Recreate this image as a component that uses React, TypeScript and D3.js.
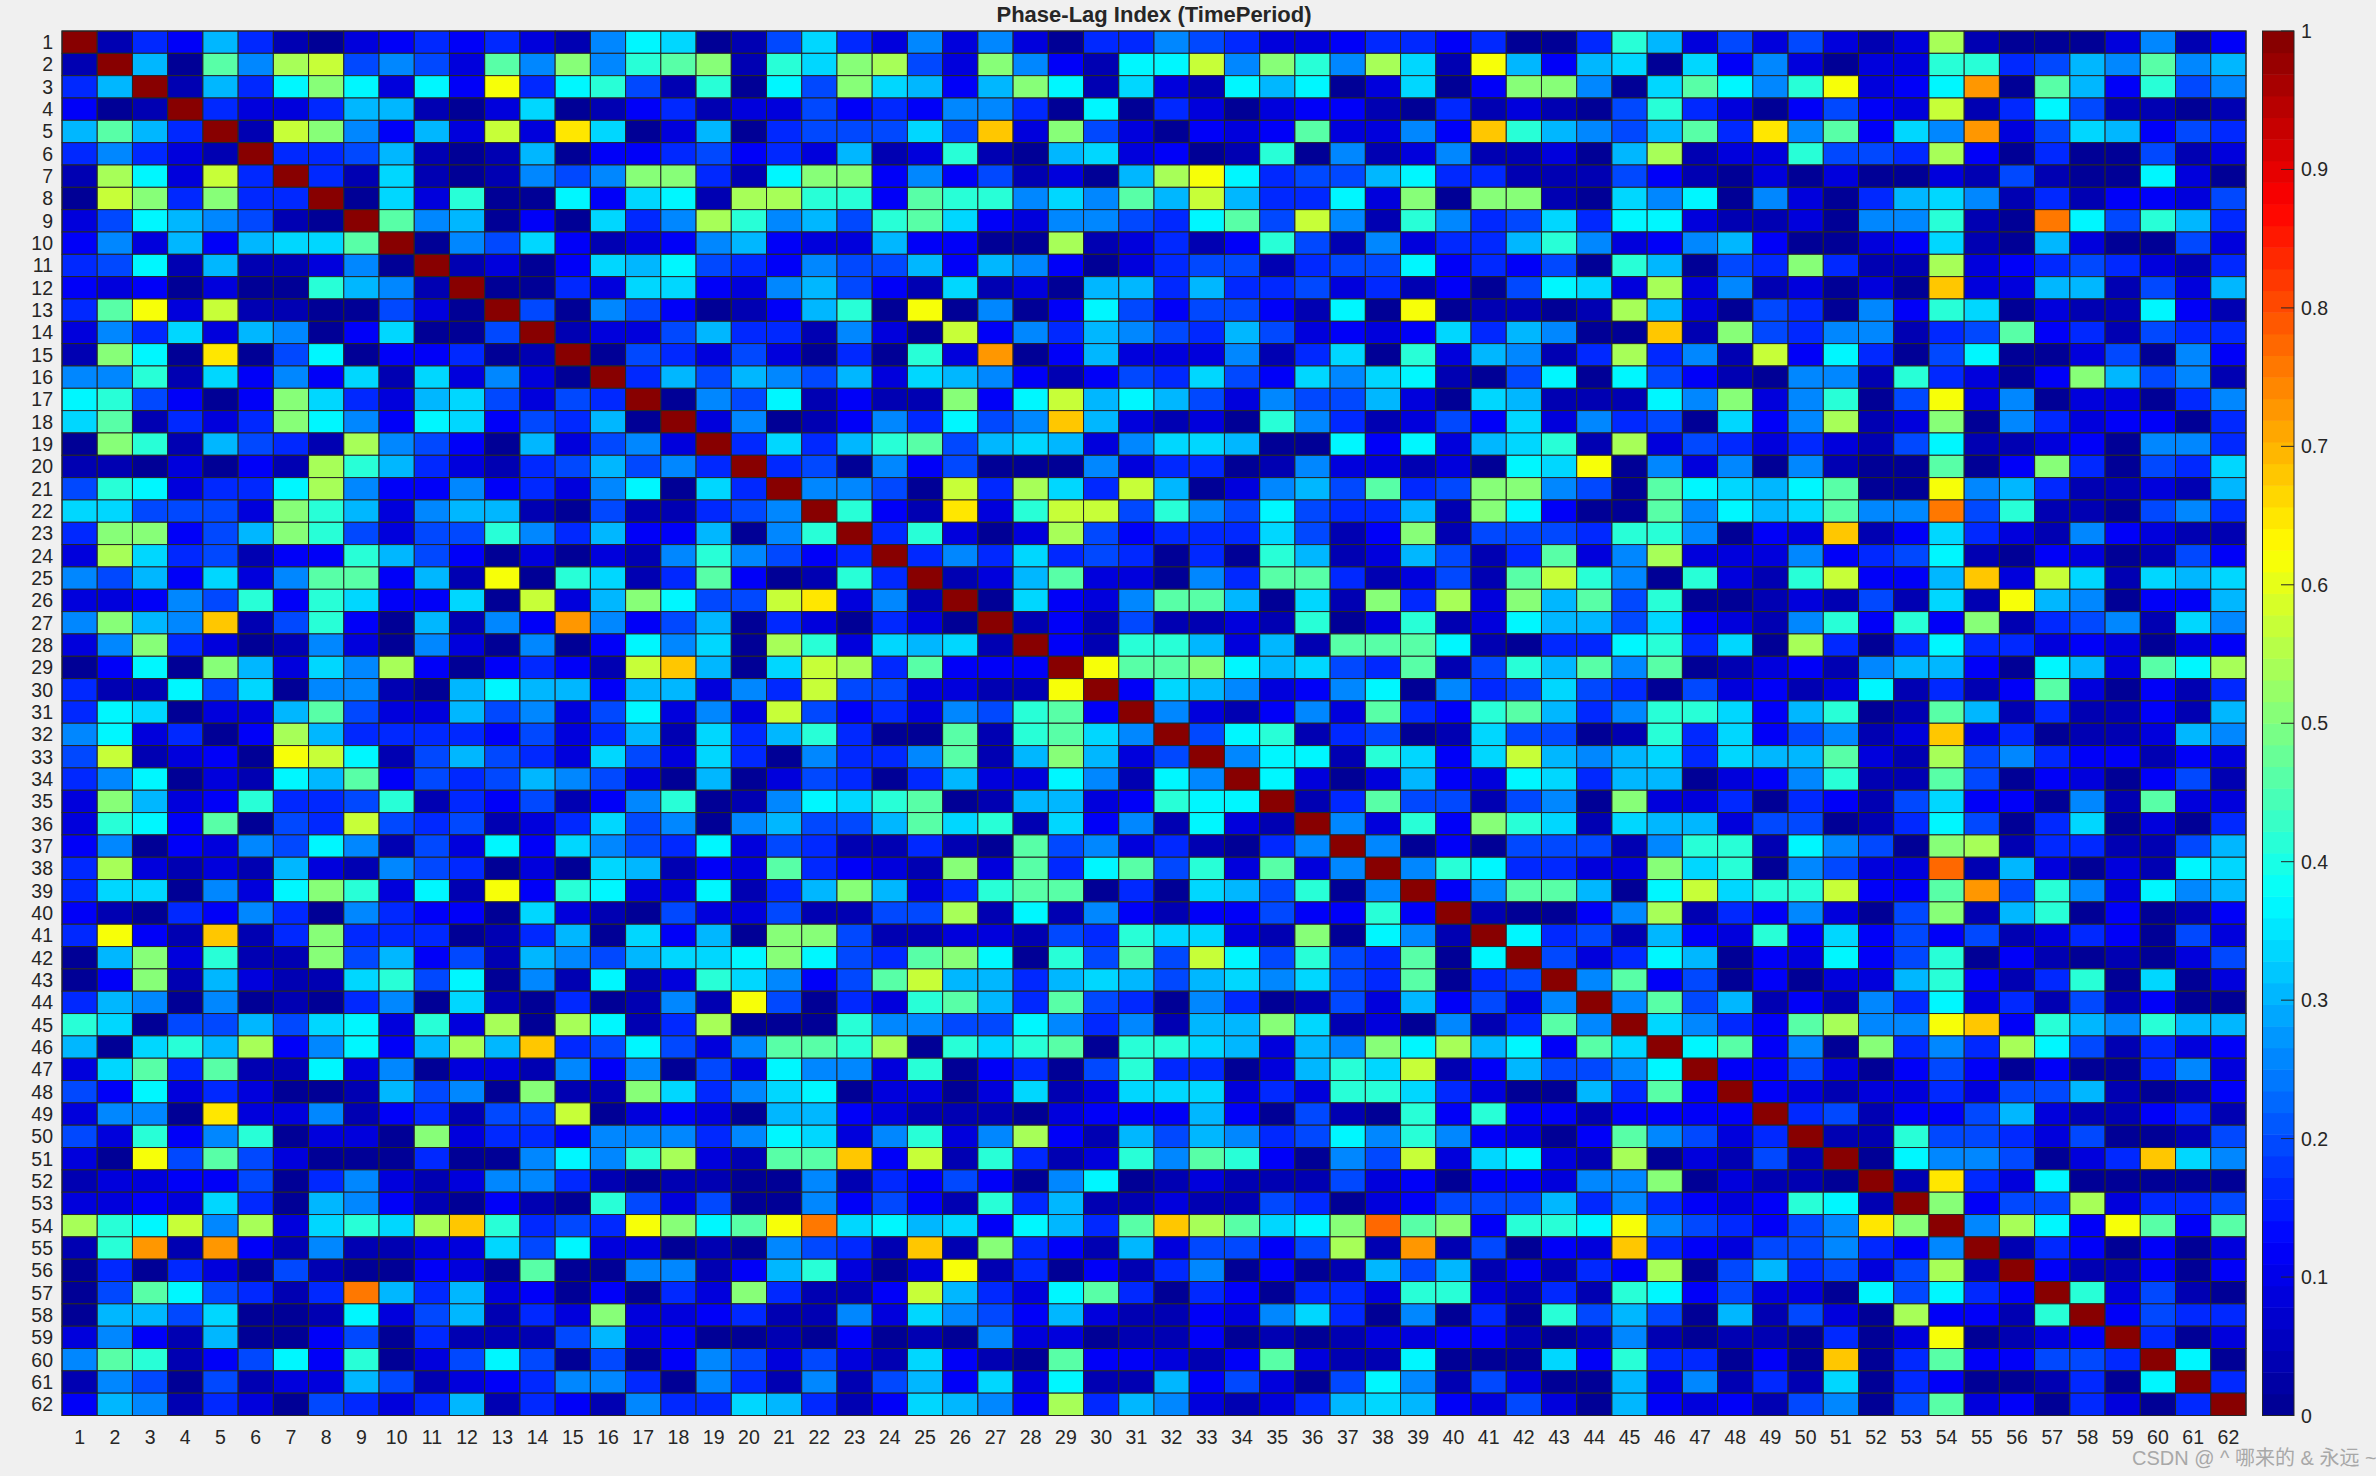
import React from "react";
import * as d3 from "d3";

const titleText = "Phase-Lag Index (TimePeriod)";
const watermarkText = "CSDN @ ^ 哪来的 & 永远 ~";
const channels = d3.range(1, 63);
const colorbarTicks = [0, 0.1, 0.2, 0.3, 0.4, 0.5, 0.6, 0.7, 0.8, 0.9, 1];

// Colour-read levels: each letter stands for one estimated value.
const levelCodes = "abcdefghijklmnopqrstu";
const levelValues = [0.01, 0.04, 0.08, 0.12, 0.16, 0.2, 0.25, 0.3, 0.34, 0.37, 0.42, 0.46, 0.5, 0.54, 0.57, 0.62, 0.65, 0.68, 0.72, 0.75, 0.78];

// Upper triangle of the symmetric matrix; row n holds columns n+1..62.
const upperRows = [
  "bedhebacdedecbgjiabf" + "iecgcgcaeegfeccdeedeaa" + "ekhcfcfcbcnbaaacgbd",
  "halgnofgfclgmgklmbk" + "imnfcmgdbjjogmkgnibphd" + "hiaidgcacckkefhglgh",
  "bhejmjcjdpejkfbkaj" + "fmihdhmjbicbjhjaciadmm" + "gailjgkpcdjsalhdkfg",
  "eccehhbaciabdebcc" + "fdedggeajaecacddbaebcb" + "afkecadfdcobejfbbab",
  "bomgdhcocqiachae" + "fffifrcmfcadcdlccgdrkh" + "gfhleqgldigscfihdfe",
  "eefhbabhaddefde" + "chbckbahicdabkagbcgbbc" + "ahnbcckffendaeaafbc",
  "ebibabgfgmmebj" + "mmdgdfbcahnpjeffhjeebb" + "bfdbacacaacbfbaajca",
  "aickaajdijbnn" + "kkdlkkgiglhoheejcmammb" + "aigjagcaehigbebddcf",
  "lghadaiegnkg" + "hfklidcggfejlfogbkgefi" + "ejjcbbcaggkbatjfkhe",
  "agfidbcdghd" + "cchddaanbcebdkfbgceehk" + "gcdghdaacdibahcaafc",
  "bcadihjfed" + "gffhdhgdaceffbeffjdedf" + "akhafemebbncdefecbe",
  "aaeciidcg" + "hfdbibcahheheefcebdafj" + "icncgbcacarcchhbfch",
  "fagfdabd" + "hkapagadjfdffdbjapabba" + "bnhcafeagdkiacbbjdb",
  "bccfhee" + "bgcaodgehgfehfcdcdiehg" + "aarbmfeggbefldebfee",
  "afecfc" + "aeakcsadhcccgbeiakchgb" + "enegbodjeafjaacfagd",
  "ehfhg" + "fhcihgdbdfeifdigijbafj" + "ajfdbaggbkecadmhfgb",
  "agfj" + "bdbbmdjohjhfcgffhcaihb" + "bbjgmcgkafpcgaccaeg",
  "cga" + "bdgejfgrhcbcakgebcfdic" + "gefaidgnbcmagecddae",
  "ei" + "ehklfhihcgiihaajdjchik" + "bncfececbfjbbcdagge",
  "e" + "fagdfaaagceeabgccbcaji" + "pagcgagbaaladmeafei",
  "ggfaoenieohacghflefmmg" + "faljihjlaapghebbcbh",
  "kdbqckoofkgfjfeehbmjd" + "aalgjhilggtfkbbafge",
  "ekcacnfdeeeifbdmbfff" + "ekkgadcrbdiecbgdcbb",
  "egeiefeaeakhbchfbel" + "cgncccgdefjbadcabfd",
  "bchlccagellebcfblo" + "kgakcbkoddhrcoibihi",
  "aidcgllhaibmencmh" + "lfkaabcbfbibphgaddh",
  "bdbfbbcbkackbcjh" + "hfidcbgkdkdmbefgbig",
  "dbkkhchbllljbae" + "ejkeianeaejeecdcacd",
  "pllmjhifelbfkh" + "lglabcdbghhdajhcljn",
  "dihgcdgjagefi" + "feafcdbcjbebdlcadbe",
  "gcbdgcledklh" + "egkkidhkablhbebbdbh",
  "fjkbefabiff" + "abkeidfgbcrceabbchg",
  "gjjbkidioh" + "ghieihhlcbnfgeddbdc",
  "jcachdcji" + "ehhacdgkbblfadcadfb",
  "belffbfg" + "amcceaedbfiddagblcc",
  "gckdmki" + "bihhcffabejfaeiacae",
  "gadaff" + "fbgkkbjgfamnbeebbfh",
  "gkjee" + "ccmikagfccubhcacbji",
  "dgll" + "hajoikkoddlsfkgcjgh",
  "baa" + "dgnbedgcafmbhkadabd",
  "je" + "fbhdckdidfdfbcedafc",
  "fcejhadcjdfkadbabacf",
  "gldfadacchkdbekaiac",
  "glfhbdbgejcebfbdaa",
  "igedlnggprdkhgkhh",
  "jldgamegenjfbecd",
  "ddfcadfdadaaegc",
  "dcbccecffhbabd",
  "efbddfhcbbdeb",
  "bbkffecfaabf",
  "ajggfacerig",
  "bqecjaaaaa",
  "mdffnceef",
  "gnjdpldl",
  "bedadac",
  "dbbdad",
  "kcfba",
  "dfee",
  "eac",
  "ja",
  "e",
];

function valueAt(row: number, col: number): number {
  if (row === col) return 1;
  const r = Math.min(row, col);
  const c = Math.max(row, col);
  const code = upperRows[r - 1].charAt(c - r - 1);
  const idx = levelCodes.indexOf(code);
  return idx < 0 ? 0.1 : levelValues[idx];
}

const jet = d3
  .scaleLinear<string>()
  .domain([0, 0.125, 0.375, 0.625, 0.875, 1])
  .range(["#00008f", "#0000ff", "#00ffff", "#ffff00", "#ff0000", "#800000"])
  .clamp(true);
const levels = 64;
const quantized = (v: number) => jet((Math.min(Math.floor(v * levels), levels - 1) + 0.5) / levels);

const edgeColor = "#262626";
const textColor = "#262626";
const fontFamily = "'Liberation Sans', Arial, sans-serif";
const labelSize = 19.5;

export default function App() {
  const left = 62;
  const right = 2246;
  const top = 31;
  const bottom = 1415.5;
  const x = d3.scaleBand<number>().domain(channels).range([left, right]);
  const y = d3.scaleBand<number>().domain(channels).range([top, bottom]);
  const barX = 2262.5;
  const barW = 31.5;
  const barScale = d3.scaleLinear().domain([0, 1]).range([bottom, top]);
  const barLevels = d3.range(levels);

  return (
    <svg
      width={2376}
      height={1476}
      style={{ position: "absolute", left: 0, top: 0, background: "#f0f0f0", display: "block" }}
      fontFamily={fontFamily}
    >
      <text x={(left + right) / 2} y={22} textAnchor="middle" fontSize={22} fontWeight="bold" fill={textColor}>
        {titleText}
      </text>
      {channels.map((r) =>
        channels.map((c) => (
          <rect
            key={`${r}-${c}`}
            x={x(c)}
            y={y(r)}
            width={x.bandwidth()}
            height={y.bandwidth()}
            fill={quantized(valueAt(r, c))}
            stroke={edgeColor}
            strokeWidth={1}
          />
        ))
      )}
      <rect x={left} y={top} width={right - left} height={bottom - top} fill="none" stroke={edgeColor} strokeWidth={1} />
      {channels.map((c) => (
        <text key={`x${c}`} x={x(c)! + x.bandwidth() / 2} y={1444} textAnchor="middle" fontSize={labelSize} fill={textColor}>
          {c}
        </text>
      ))}
      {channels.map((r) => (
        <text key={`y${r}`} x={53} y={y(r)! + y.bandwidth() / 2 + 7} textAnchor="end" fontSize={labelSize} fill={textColor}>
          {r}
        </text>
      ))}
      {barLevels.map((l) => (
        <rect
          key={`b${l}`}
          x={barX}
          y={barScale((l + 1) / levels)}
          width={barW}
          height={barScale(l / levels) - barScale((l + 1) / levels) + 0.5}
          fill={jet((l + 0.5) / levels)}
        />
      ))}
      <rect x={barX} y={top} width={barW} height={bottom - top} fill="none" stroke={edgeColor} strokeWidth={1} />
      {colorbarTicks.map((t) => (
        <g key={`t${t}`}>
          <line x1={barX + barW - 13} x2={barX + barW} y1={barScale(t)} y2={barScale(t)} stroke={edgeColor} strokeWidth={1} />
          <text x={2301} y={barScale(t) + 7} fontSize={labelSize} fill={textColor}>
            {t}
          </text>
        </g>
      ))}
      <text
        x={2132}
        y={1465}
        fontSize={20}
        fill="#a8a8a8"
        fontFamily="'Liberation Sans', 'Noto Sans CJK SC', sans-serif"
      >
        {watermarkText}
      </text>
    </svg>
  );
}
